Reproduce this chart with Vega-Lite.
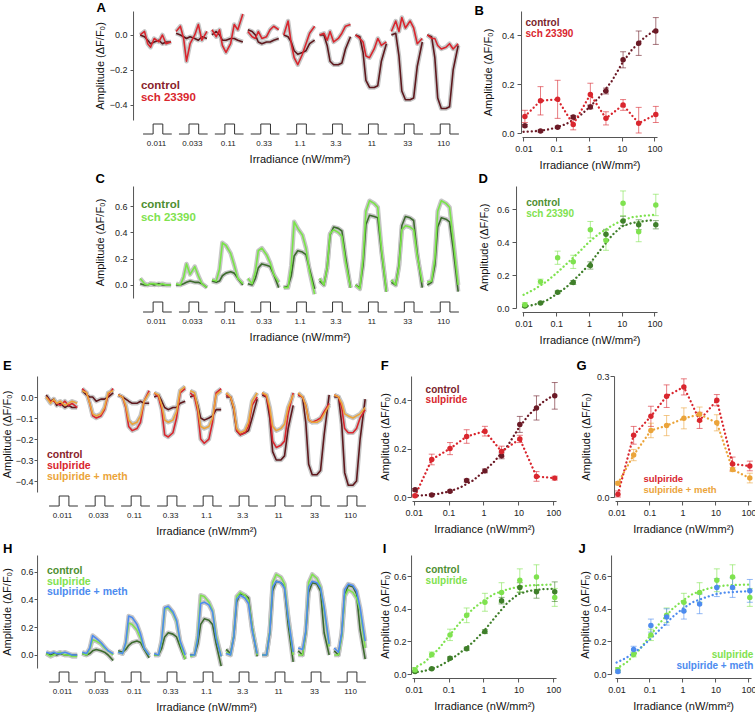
{
"$schema": "https://vega.github.io/schema/vega-lite/v6.json",
"padding": {"left": 1, "top": 2, "right": 0, "bottom": 0},
"background": "white",
"config": {
 "font": "Liberation Sans",
 "view": {"stroke": null},
 "axis": {"grid": false, "domainColor": "#555", "tickColor": "#555", "labelColor": "#222", "titleColor": "#111", "titleFontWeight": "normal", "titleFontSize": 11, "labelFontSize": 9, "tickSize": 4, "labelPadding": 2, "labelFlush": false, "labelOverlap": false},
 "line": {"strokeJoin": "round"}
},
"datasets": {
"one": [{"t": "label"}],
"stim": [
{"g":0,"o":1,"x":0.14,"y":0},{"g":0,"o":2,"x":0.42,"y":0},{"g":0,"o":3,"x":0.42,"y":1},{"g":0,"o":4,"x":0.69,"y":1},{"g":0,"o":5,"x":0.69,"y":0},{"g":0,"o":6,"x":0.94,"y":0},
{"g":1,"o":1,"x":1.14,"y":0},{"g":1,"o":2,"x":1.42,"y":0},{"g":1,"o":3,"x":1.42,"y":1},{"g":1,"o":4,"x":1.69,"y":1},{"g":1,"o":5,"x":1.69,"y":0},{"g":1,"o":6,"x":1.94,"y":0},
{"g":2,"o":1,"x":2.14,"y":0},{"g":2,"o":2,"x":2.42,"y":0},{"g":2,"o":3,"x":2.42,"y":1},{"g":2,"o":4,"x":2.69,"y":1},{"g":2,"o":5,"x":2.69,"y":0},{"g":2,"o":6,"x":2.94,"y":0},
{"g":3,"o":1,"x":3.14,"y":0},{"g":3,"o":2,"x":3.42,"y":0},{"g":3,"o":3,"x":3.42,"y":1},{"g":3,"o":4,"x":3.69,"y":1},{"g":3,"o":5,"x":3.69,"y":0},{"g":3,"o":6,"x":3.94,"y":0},
{"g":4,"o":1,"x":4.14,"y":0},{"g":4,"o":2,"x":4.42,"y":0},{"g":4,"o":3,"x":4.42,"y":1},{"g":4,"o":4,"x":4.69,"y":1},{"g":4,"o":5,"x":4.69,"y":0},{"g":4,"o":6,"x":4.94,"y":0},
{"g":5,"o":1,"x":5.14,"y":0},{"g":5,"o":2,"x":5.42,"y":0},{"g":5,"o":3,"x":5.42,"y":1},{"g":5,"o":4,"x":5.69,"y":1},{"g":5,"o":5,"x":5.69,"y":0},{"g":5,"o":6,"x":5.94,"y":0},
{"g":6,"o":1,"x":6.14,"y":0},{"g":6,"o":2,"x":6.42,"y":0},{"g":6,"o":3,"x":6.42,"y":1},{"g":6,"o":4,"x":6.69,"y":1},{"g":6,"o":5,"x":6.69,"y":0},{"g":6,"o":6,"x":6.94,"y":0},
{"g":7,"o":1,"x":7.14,"y":0},{"g":7,"o":2,"x":7.42,"y":0},{"g":7,"o":3,"x":7.42,"y":1},{"g":7,"o":4,"x":7.69,"y":1},{"g":7,"o":5,"x":7.69,"y":0},{"g":7,"o":6,"x":7.94,"y":0},
{"g":8,"o":1,"x":8.14,"y":0},{"g":8,"o":2,"x":8.42,"y":0},{"g":8,"o":3,"x":8.42,"y":1},{"g":8,"o":4,"x":8.69,"y":1},{"g":8,"o":5,"x":8.69,"y":0},{"g":8,"o":6,"x":8.94,"y":0}
],
"Ak": [
{"g":0,"x":0.06,"v":0},{"g":0,"x":0.18,"v":-0.01},{"g":0,"x":0.27,"v":-0.03},{"g":0,"x":0.35,"v":-0.05},{"g":0,"x":0.45,"v":-0.04},{"g":0,"x":0.58,"v":-0.03},{"g":0,"x":0.68,"v":-0.05},{"g":0,"x":0.78,"v":-0.04},{"g":0,"x":0.92,"v":-0.04},
{"g":1,"x":1.06,"v":0.01},{"g":1,"x":1.18,"v":0},{"g":1,"x":1.27,"v":-0.01},{"g":1,"x":1.35,"v":-0.02},{"g":1,"x":1.45,"v":-0.01},{"g":1,"x":1.58,"v":-0.02},{"g":1,"x":1.68,"v":-0.03},{"g":1,"x":1.78,"v":-0.01},{"g":1,"x":1.92,"v":-0.02},
{"g":2,"x":2.06,"v":0},{"g":2,"x":2.18,"v":0.02},{"g":2,"x":2.27,"v":0},{"g":2,"x":2.35,"v":-0.03},{"g":2,"x":2.45,"v":-0.03},{"g":2,"x":2.58,"v":-0.02},{"g":2,"x":2.68,"v":-0.02},{"g":2,"x":2.78,"v":-0.03},{"g":2,"x":2.92,"v":-0.04},
{"g":3,"x":3.06,"v":0.03},{"g":3,"x":3.18,"v":0.02},{"g":3,"x":3.27,"v":0},{"g":3,"x":3.35,"v":-0.04},{"g":3,"x":3.45,"v":-0.05},{"g":3,"x":3.58,"v":-0.04},{"g":3,"x":3.68,"v":-0.04},{"g":3,"x":3.78,"v":-0.03},{"g":3,"x":3.92,"v":-0.02},
{"g":4,"x":4.06,"v":0},{"g":4,"x":4.18,"v":-0.01},{"g":4,"x":4.27,"v":-0.04},{"g":4,"x":4.35,"v":-0.09},{"g":4,"x":4.45,"v":-0.11},{"g":4,"x":4.58,"v":-0.1},{"g":4,"x":4.68,"v":-0.09},{"g":4,"x":4.78,"v":-0.05},{"g":4,"x":4.92,"v":-0.03},
{"g":5,"x":5.06,"v":0},{"g":5,"x":5.18,"v":0},{"g":5,"x":5.27,"v":-0.06},{"g":5,"x":5.35,"v":-0.15},{"g":5,"x":5.45,"v":-0.17},{"g":5,"x":5.58,"v":-0.17},{"g":5,"x":5.68,"v":-0.16},{"g":5,"x":5.78,"v":-0.08},{"g":5,"x":5.92,"v":-0.01},
{"g":6,"x":6.06,"v":0},{"g":6,"x":6.18,"v":-0.01},{"g":6,"x":6.27,"v":-0.1},{"g":6,"x":6.35,"v":-0.26},{"g":6,"x":6.45,"v":-0.3},{"g":6,"x":6.58,"v":-0.3},{"g":6,"x":6.68,"v":-0.29},{"g":6,"x":6.78,"v":-0.15},{"g":6,"x":6.92,"v":-0.05},
{"g":7,"x":7.06,"v":0},{"g":7,"x":7.18,"v":0.01},{"g":7,"x":7.27,"v":-0.12},{"g":7,"x":7.35,"v":-0.32},{"g":7,"x":7.45,"v":-0.37},{"g":7,"x":7.58,"v":-0.37},{"g":7,"x":7.68,"v":-0.36},{"g":7,"x":7.78,"v":-0.18},{"g":7,"x":7.92,"v":-0.04},
{"g":8,"x":8.06,"v":0},{"g":8,"x":8.18,"v":-0.01},{"g":8,"x":8.27,"v":-0.13},{"g":8,"x":8.35,"v":-0.36},{"g":8,"x":8.45,"v":-0.42},{"g":8,"x":8.58,"v":-0.42},{"g":8,"x":8.68,"v":-0.41},{"g":8,"x":8.78,"v":-0.2},{"g":8,"x":8.92,"v":-0.06}
],
"Ar": [
{"g":0,"x":0.06,"v":0},{"g":0,"x":0.18,"v":0.02},{"g":0,"x":0.27,"v":-0.05},{"g":0,"x":0.35,"v":-0.07},{"g":0,"x":0.45,"v":-0.02},{"g":0,"x":0.58,"v":-0.04},{"g":0,"x":0.68,"v":0},{"g":0,"x":0.78,"v":-0.05},{"g":0,"x":0.92,"v":-0.04},
{"g":1,"x":1.06,"v":0.02},{"g":1,"x":1.18,"v":0.05},{"g":1,"x":1.27,"v":-0.02},{"g":1,"x":1.35,"v":-0.15},{"g":1,"x":1.45,"v":-0.05},{"g":1,"x":1.58,"v":0},{"g":1,"x":1.68,"v":0.06},{"g":1,"x":1.78,"v":-0.03},{"g":1,"x":1.92,"v":0.02},
{"g":2,"x":2.06,"v":0.03},{"g":2,"x":2.18,"v":-0.01},{"g":2,"x":2.27,"v":0.03},{"g":2,"x":2.35,"v":-0.06},{"g":2,"x":2.45,"v":-0.1},{"g":2,"x":2.58,"v":-0.05},{"g":2,"x":2.68,"v":0.06},{"g":2,"x":2.78,"v":0.03},{"g":2,"x":2.92,"v":0.12},
{"g":3,"x":3.06,"v":0.02},{"g":3,"x":3.18,"v":-0.01},{"g":3,"x":3.27,"v":-0.02},{"g":3,"x":3.35,"v":0.02},{"g":3,"x":3.45,"v":-0.02},{"g":3,"x":3.58,"v":-0.01},{"g":3,"x":3.68,"v":0.03},{"g":3,"x":3.78,"v":0.05},{"g":3,"x":3.92,"v":0.03},
{"g":4,"x":4.06,"v":0},{"g":4,"x":4.18,"v":0.08},{"g":4,"x":4.27,"v":-0.05},{"g":4,"x":4.35,"v":-0.13},{"g":4,"x":4.45,"v":-0.17},{"g":4,"x":4.58,"v":-0.11},{"g":4,"x":4.68,"v":-0.05},{"g":4,"x":4.78,"v":0.01},{"g":4,"x":4.92,"v":0.05},
{"g":5,"x":5.06,"v":0},{"g":5,"x":5.18,"v":0.01},{"g":5,"x":5.27,"v":-0.03},{"g":5,"x":5.35,"v":0.02},{"g":5,"x":5.45,"v":-0.04},{"g":5,"x":5.58,"v":-0.02},{"g":5,"x":5.68,"v":0.01},{"g":5,"x":5.78,"v":0.05},{"g":5,"x":5.92,"v":0.06},
{"g":6,"x":6.06,"v":0},{"g":6,"x":6.18,"v":-0.02},{"g":6,"x":6.27,"v":-0.04},{"g":6,"x":6.35,"v":-0.12},{"g":6,"x":6.45,"v":-0.13},{"g":6,"x":6.58,"v":-0.08},{"g":6,"x":6.68,"v":-0.02},{"g":6,"x":6.78,"v":-0.06},{"g":6,"x":6.92,"v":-0.04},
{"g":7,"x":7.06,"v":0.02},{"g":7,"x":7.18,"v":0.08},{"g":7,"x":7.27,"v":0.02},{"g":7,"x":7.35,"v":0.1},{"g":7,"x":7.45,"v":0.04},{"g":7,"x":7.58,"v":0.08},{"g":7,"x":7.68,"v":0.04},{"g":7,"x":7.78,"v":-0.05},{"g":7,"x":7.92,"v":-0.02},
{"g":8,"x":8.06,"v":0},{"g":8,"x":8.18,"v":-0.02},{"g":8,"x":8.27,"v":-0.02},{"g":8,"x":8.35,"v":-0.06},{"g":8,"x":8.45,"v":-0.08},{"g":8,"x":8.58,"v":-0.07},{"g":8,"x":8.68,"v":-0.05},{"g":8,"x":8.78,"v":-0.08},{"g":8,"x":8.92,"v":-0.05}
],
"Cd": [
{"g":0,"x":0.06,"v":0.01},{"g":0,"x":0.18,"v":0},{"g":0,"x":0.27,"v":0},{"g":0,"x":0.35,"v":0.01},{"g":0,"x":0.45,"v":0},{"g":0,"x":0.58,"v":0.01},{"g":0,"x":0.68,"v":0},{"g":0,"x":0.78,"v":0},{"g":0,"x":0.92,"v":0},
{"g":1,"x":1.06,"v":0},{"g":1,"x":1.18,"v":0},{"g":1,"x":1.27,"v":0.01},{"g":1,"x":1.35,"v":0.02},{"g":1,"x":1.45,"v":0.03},{"g":1,"x":1.58,"v":0.02},{"g":1,"x":1.68,"v":0.02},{"g":1,"x":1.78,"v":0.01},{"g":1,"x":1.92,"v":-0.02},
{"g":2,"x":2.06,"v":0.03},{"g":2,"x":2.18,"v":0.02},{"g":2,"x":2.27,"v":0.03},{"g":2,"x":2.35,"v":0.07},{"g":2,"x":2.45,"v":0.09},{"g":2,"x":2.58,"v":0.1},{"g":2,"x":2.68,"v":0.09},{"g":2,"x":2.78,"v":0.05},{"g":2,"x":2.92,"v":0},
{"g":3,"x":3.06,"v":0.01},{"g":3,"x":3.18,"v":0},{"g":3,"x":3.27,"v":0.05},{"g":3,"x":3.35,"v":0.13},{"g":3,"x":3.45,"v":0.16},{"g":3,"x":3.58,"v":0.15},{"g":3,"x":3.68,"v":0.14},{"g":3,"x":3.78,"v":0.08},{"g":3,"x":3.92,"v":-0.02},
{"g":4,"x":4.06,"v":-0.02},{"g":4,"x":4.18,"v":-0.01},{"g":4,"x":4.27,"v":0.07},{"g":4,"x":4.35,"v":0.22},{"g":4,"x":4.45,"v":0.26},{"g":4,"x":4.58,"v":0.25},{"g":4,"x":4.68,"v":0.23},{"g":4,"x":4.78,"v":0.12},{"g":4,"x":4.92,"v":-0.03},
{"g":5,"x":5.06,"v":0.03},{"g":5,"x":5.18,"v":0},{"g":5,"x":5.27,"v":0.13},{"g":5,"x":5.35,"v":0.38},{"g":5,"x":5.45,"v":0.44},{"g":5,"x":5.58,"v":0.43},{"g":5,"x":5.68,"v":0.41},{"g":5,"x":5.78,"v":0.22},{"g":5,"x":5.92,"v":-0.02},
{"g":6,"x":6.06,"v":0},{"g":6,"x":6.18,"v":-0.02},{"g":6,"x":6.27,"v":0.15},{"g":6,"x":6.35,"v":0.46},{"g":6,"x":6.45,"v":0.53},{"g":6,"x":6.58,"v":0.52},{"g":6,"x":6.68,"v":0.51},{"g":6,"x":6.78,"v":0.26},{"g":6,"x":6.92,"v":-0.05},
{"g":7,"x":7.06,"v":0.02},{"g":7,"x":7.18,"v":0},{"g":7,"x":7.27,"v":0.15},{"g":7,"x":7.35,"v":0.45},{"g":7,"x":7.45,"v":0.52},{"g":7,"x":7.58,"v":0.51},{"g":7,"x":7.68,"v":0.49},{"g":7,"x":7.78,"v":0.24},{"g":7,"x":7.92,"v":-0.02},
{"g":8,"x":8.06,"v":0},{"g":8,"x":8.18,"v":0.02},{"g":8,"x":8.27,"v":0.15},{"g":8,"x":8.35,"v":0.44},{"g":8,"x":8.45,"v":0.51},{"g":8,"x":8.58,"v":0.5},{"g":8,"x":8.68,"v":0.48},{"g":8,"x":8.78,"v":0.28},{"g":8,"x":8.92,"v":-0.05}
],
"Cl": [
{"g":0,"x":0.06,"v":0.05},{"g":0,"x":0.18,"v":0.01},{"g":0,"x":0.27,"v":0},{"g":0,"x":0.35,"v":0.01},{"g":0,"x":0.45,"v":0.01},{"g":0,"x":0.58,"v":0},{"g":0,"x":0.68,"v":0.01},{"g":0,"x":0.78,"v":0},{"g":0,"x":0.92,"v":0},
{"g":1,"x":1.06,"v":0.01},{"g":1,"x":1.18,"v":0},{"g":1,"x":1.27,"v":0.06},{"g":1,"x":1.35,"v":0.16},{"g":1,"x":1.45,"v":0.08},{"g":1,"x":1.58,"v":0.14},{"g":1,"x":1.68,"v":0.07},{"g":1,"x":1.78,"v":0.01},{"g":1,"x":1.92,"v":-0.02},
{"g":2,"x":2.06,"v":0.04},{"g":2,"x":2.18,"v":0.03},{"g":2,"x":2.27,"v":0.12},{"g":2,"x":2.35,"v":0.32},{"g":2,"x":2.45,"v":0.3},{"g":2,"x":2.58,"v":0.24},{"g":2,"x":2.68,"v":0.15},{"g":2,"x":2.78,"v":0.05},{"g":2,"x":2.92,"v":0.01},
{"g":3,"x":3.06,"v":0.05},{"g":3,"x":3.18,"v":0.01},{"g":3,"x":3.27,"v":0.1},{"g":3,"x":3.35,"v":0.26},{"g":3,"x":3.45,"v":0.28},{"g":3,"x":3.58,"v":0.23},{"g":3,"x":3.68,"v":0.17},{"g":3,"x":3.78,"v":0.08},{"g":3,"x":3.92,"v":0.02},
{"g":4,"x":4.06,"v":-0.02},{"g":4,"x":4.18,"v":-0.02},{"g":4,"x":4.27,"v":0.15},{"g":4,"x":4.35,"v":0.48},{"g":4,"x":4.45,"v":0.43},{"g":4,"x":4.58,"v":0.38},{"g":4,"x":4.68,"v":0.28},{"g":4,"x":4.78,"v":0.1},{"g":4,"x":4.92,"v":-0.07},
{"g":5,"x":5.06,"v":0.05},{"g":5,"x":5.18,"v":0},{"g":5,"x":5.27,"v":0.13},{"g":5,"x":5.35,"v":0.39},{"g":5,"x":5.45,"v":0.42},{"g":5,"x":5.58,"v":0.4},{"g":5,"x":5.68,"v":0.37},{"g":5,"x":5.78,"v":0.18},{"g":5,"x":5.92,"v":-0.02},
{"g":6,"x":6.06,"v":0},{"g":6,"x":6.18,"v":-0.03},{"g":6,"x":6.27,"v":0.2},{"g":6,"x":6.35,"v":0.56},{"g":6,"x":6.45,"v":0.64},{"g":6,"x":6.58,"v":0.62},{"g":6,"x":6.68,"v":0.59},{"g":6,"x":6.78,"v":0.28},{"g":6,"x":6.92,"v":-0.05},
{"g":7,"x":7.06,"v":0.04},{"g":7,"x":7.18,"v":0},{"g":7,"x":7.27,"v":0.14},{"g":7,"x":7.35,"v":0.42},{"g":7,"x":7.45,"v":0.45},{"g":7,"x":7.58,"v":0.44},{"g":7,"x":7.68,"v":0.42},{"g":7,"x":7.78,"v":0.22},{"g":7,"x":7.92,"v":0.02},
{"g":8,"x":8.06,"v":0.02},{"g":8,"x":8.18,"v":0.03},{"g":8,"x":8.27,"v":0.2},{"g":8,"x":8.35,"v":0.56},{"g":8,"x":8.45,"v":0.64},{"g":8,"x":8.58,"v":0.62},{"g":8,"x":8.68,"v":0.59},{"g":8,"x":8.78,"v":0.35},{"g":8,"x":8.92,"v":0}
],
"Ek": [
{"g":0,"x":0.06,"v":0.01},{"g":0,"x":0.18,"v":-0.02},{"g":0,"x":0.27,"v":-0.01},{"g":0,"x":0.35,"v":-0.04},{"g":0,"x":0.45,"v":-0.03},{"g":0,"x":0.58,"v":-0.05},{"g":0,"x":0.68,"v":-0.04},{"g":0,"x":0.78,"v":-0.05},{"g":0,"x":0.92,"v":-0.05},
{"g":1,"x":1.06,"v":0.03},{"g":1,"x":1.18,"v":0.01},{"g":1,"x":1.27,"v":0},{"g":1,"x":1.35,"v":0},{"g":1,"x":1.45,"v":-0.02},{"g":1,"x":1.58,"v":-0.01},{"g":1,"x":1.68,"v":-0.01},{"g":1,"x":1.78,"v":0},{"g":1,"x":1.92,"v":0.02},
{"g":2,"x":2.06,"v":0.01},{"g":2,"x":2.18,"v":0},{"g":2,"x":2.27,"v":-0.01},{"g":2,"x":2.35,"v":-0.02},{"g":2,"x":2.45,"v":-0.03},{"g":2,"x":2.58,"v":-0.03},{"g":2,"x":2.68,"v":-0.02},{"g":2,"x":2.78,"v":-0.03},{"g":2,"x":2.92,"v":-0.03},
{"g":3,"x":3.06,"v":0},{"g":3,"x":3.18,"v":0.01},{"g":3,"x":3.27,"v":-0.02},{"g":3,"x":3.35,"v":-0.05},{"g":3,"x":3.45,"v":-0.06},{"g":3,"x":3.58,"v":-0.05},{"g":3,"x":3.68,"v":-0.05},{"g":3,"x":3.78,"v":-0.03},{"g":3,"x":3.92,"v":-0.02},
{"g":4,"x":4.06,"v":0},{"g":4,"x":4.18,"v":0.01},{"g":4,"x":4.27,"v":-0.04},{"g":4,"x":4.35,"v":-0.1},{"g":4,"x":4.45,"v":-0.11},{"g":4,"x":4.58,"v":-0.1},{"g":4,"x":4.68,"v":-0.09},{"g":4,"x":4.78,"v":-0.06},{"g":4,"x":4.92,"v":-0.06},
{"g":5,"x":5.06,"v":0},{"g":5,"x":5.18,"v":0},{"g":5,"x":5.27,"v":-0.06},{"g":5,"x":5.35,"v":-0.16},{"g":5,"x":5.45,"v":-0.18},{"g":5,"x":5.58,"v":-0.17},{"g":5,"x":5.68,"v":-0.16},{"g":5,"x":5.78,"v":-0.1},{"g":5,"x":5.92,"v":-0.01},
{"g":6,"x":6.06,"v":0.01},{"g":6,"x":6.18,"v":0},{"g":6,"x":6.27,"v":-0.1},{"g":6,"x":6.35,"v":-0.26},{"g":6,"x":6.45,"v":-0.3},{"g":6,"x":6.58,"v":-0.3},{"g":6,"x":6.68,"v":-0.28},{"g":6,"x":6.78,"v":-0.15},{"g":6,"x":6.92,"v":-0.04},
{"g":7,"x":7.06,"v":0.01},{"g":7,"x":7.18,"v":0},{"g":7,"x":7.27,"v":-0.12},{"g":7,"x":7.35,"v":-0.32},{"g":7,"x":7.45,"v":-0.37},{"g":7,"x":7.58,"v":-0.37},{"g":7,"x":7.68,"v":-0.35},{"g":7,"x":7.78,"v":-0.18},{"g":7,"x":7.92,"v":0.01},
{"g":8,"x":8.06,"v":0},{"g":8,"x":8.18,"v":0},{"g":8,"x":8.27,"v":-0.13},{"g":8,"x":8.35,"v":-0.36},{"g":8,"x":8.45,"v":-0.42},{"g":8,"x":8.58,"v":-0.42},{"g":8,"x":8.68,"v":-0.4},{"g":8,"x":8.78,"v":-0.2},{"g":8,"x":8.92,"v":-0.01}
],
"Er": [
{"g":0,"x":0.06,"v":0},{"g":0,"x":0.18,"v":-0.02},{"g":0,"x":0.27,"v":-0.02},{"g":0,"x":0.35,"v":-0.03},{"g":0,"x":0.45,"v":-0.04},{"g":0,"x":0.58,"v":-0.02},{"g":0,"x":0.68,"v":-0.04},{"g":0,"x":0.78,"v":-0.03},{"g":0,"x":0.92,"v":-0.05},
{"g":1,"x":1.06,"v":0.04},{"g":1,"x":1.18,"v":0.02},{"g":1,"x":1.27,"v":-0.03},{"g":1,"x":1.35,"v":-0.09},{"g":1,"x":1.45,"v":-0.1},{"g":1,"x":1.58,"v":-0.09},{"g":1,"x":1.68,"v":-0.06},{"g":1,"x":1.78,"v":0.01},{"g":1,"x":1.92,"v":0.04},
{"g":2,"x":2.06,"v":0.01},{"g":2,"x":2.18,"v":0},{"g":2,"x":2.27,"v":-0.05},{"g":2,"x":2.35,"v":-0.14},{"g":2,"x":2.45,"v":-0.16},{"g":2,"x":2.58,"v":-0.15},{"g":2,"x":2.68,"v":-0.12},{"g":2,"x":2.78,"v":-0.02},{"g":2,"x":2.92,"v":0.03},
{"g":3,"x":3.06,"v":0.02},{"g":3,"x":3.18,"v":0},{"g":3,"x":3.27,"v":-0.06},{"g":3,"x":3.35,"v":-0.18},{"g":3,"x":3.45,"v":-0.19},{"g":3,"x":3.58,"v":-0.17},{"g":3,"x":3.68,"v":-0.1},{"g":3,"x":3.78,"v":0.02},{"g":3,"x":3.92,"v":0.04},
{"g":4,"x":4.06,"v":0.02},{"g":4,"x":4.18,"v":0},{"g":4,"x":4.27,"v":-0.07},{"g":4,"x":4.35,"v":-0.2},{"g":4,"x":4.45,"v":-0.22},{"g":4,"x":4.58,"v":-0.2},{"g":4,"x":4.68,"v":-0.12},{"g":4,"x":4.78,"v":0.02},{"g":4,"x":4.92,"v":0.04},
{"g":5,"x":5.06,"v":0.01},{"g":5,"x":5.18,"v":0},{"g":5,"x":5.27,"v":-0.05},{"g":5,"x":5.35,"v":-0.16},{"g":5,"x":5.45,"v":-0.18},{"g":5,"x":5.58,"v":-0.17},{"g":5,"x":5.68,"v":-0.14},{"g":5,"x":5.78,"v":-0.04},{"g":5,"x":5.92,"v":0},
{"g":6,"x":6.06,"v":0.02},{"g":6,"x":6.18,"v":0},{"g":6,"x":6.27,"v":-0.07},{"g":6,"x":6.35,"v":-0.21},{"g":6,"x":6.45,"v":-0.24},{"g":6,"x":6.58,"v":-0.23},{"g":6,"x":6.68,"v":-0.21},{"g":6,"x":6.78,"v":-0.08},{"g":6,"x":6.92,"v":0.02},
{"g":7,"x":7.06,"v":0.01},{"g":7,"x":7.18,"v":0},{"g":7,"x":7.27,"v":-0.04},{"g":7,"x":7.35,"v":-0.11},{"g":7,"x":7.45,"v":-0.12},{"g":7,"x":7.58,"v":-0.11},{"g":7,"x":7.68,"v":-0.1},{"g":7,"x":7.78,"v":-0.07},{"g":7,"x":7.92,"v":-0.03},
{"g":8,"x":8.06,"v":0.01},{"g":8,"x":8.18,"v":0},{"g":8,"x":8.27,"v":-0.05},{"g":8,"x":8.35,"v":-0.15},{"g":8,"x":8.45,"v":-0.17},{"g":8,"x":8.58,"v":-0.17},{"g":8,"x":8.68,"v":-0.15},{"g":8,"x":8.78,"v":-0.1},{"g":8,"x":8.92,"v":-0.06}
],
"Eo": [
{"g":0,"x":0.06,"v":0},{"g":0,"x":0.18,"v":-0.03},{"g":0,"x":0.27,"v":-0.01},{"g":0,"x":0.35,"v":-0.03},{"g":0,"x":0.45,"v":-0.02},{"g":0,"x":0.58,"v":-0.04},{"g":0,"x":0.68,"v":-0.03},{"g":0,"x":0.78,"v":-0.02},{"g":0,"x":0.92,"v":-0.03},
{"g":1,"x":1.06,"v":0.03},{"g":1,"x":1.18,"v":0.02},{"g":1,"x":1.27,"v":-0.03},{"g":1,"x":1.35,"v":-0.08},{"g":1,"x":1.45,"v":-0.09},{"g":1,"x":1.58,"v":-0.08},{"g":1,"x":1.68,"v":-0.05},{"g":1,"x":1.78,"v":0.02},{"g":1,"x":1.92,"v":0.03},
{"g":2,"x":2.06,"v":0.01},{"g":2,"x":2.18,"v":0},{"g":2,"x":2.27,"v":-0.04},{"g":2,"x":2.35,"v":-0.11},{"g":2,"x":2.45,"v":-0.13},{"g":2,"x":2.58,"v":-0.12},{"g":2,"x":2.68,"v":-0.09},{"g":2,"x":2.78,"v":-0.02},{"g":2,"x":2.92,"v":0.02},
{"g":3,"x":3.06,"v":0.02},{"g":3,"x":3.18,"v":0.01},{"g":3,"x":3.27,"v":-0.04},{"g":3,"x":3.35,"v":-0.11},{"g":3,"x":3.45,"v":-0.12},{"g":3,"x":3.58,"v":-0.11},{"g":3,"x":3.68,"v":-0.07},{"g":3,"x":3.78,"v":0.03},{"g":3,"x":3.92,"v":0.05},
{"g":4,"x":4.06,"v":0.03},{"g":4,"x":4.18,"v":0.02},{"g":4,"x":4.27,"v":-0.05},{"g":4,"x":4.35,"v":-0.14},{"g":4,"x":4.45,"v":-0.15},{"g":4,"x":4.58,"v":-0.14},{"g":4,"x":4.68,"v":-0.1},{"g":4,"x":4.78,"v":0.01},{"g":4,"x":4.92,"v":0.03},
{"g":5,"x":5.06,"v":0.02},{"g":5,"x":5.18,"v":0},{"g":5,"x":5.27,"v":-0.05},{"g":5,"x":5.35,"v":-0.15},{"g":5,"x":5.45,"v":-0.17},{"g":5,"x":5.58,"v":-0.16},{"g":5,"x":5.68,"v":-0.12},{"g":5,"x":5.78,"v":-0.02},{"g":5,"x":5.92,"v":0.02},
{"g":6,"x":6.06,"v":0.02},{"g":6,"x":6.18,"v":0.01},{"g":6,"x":6.27,"v":-0.05},{"g":6,"x":6.35,"v":-0.14},{"g":6,"x":6.45,"v":-0.16},{"g":6,"x":6.58,"v":-0.15},{"g":6,"x":6.68,"v":-0.13},{"g":6,"x":6.78,"v":-0.05},{"g":6,"x":6.92,"v":0.01},
{"g":7,"x":7.06,"v":0.02},{"g":7,"x":7.18,"v":0},{"g":7,"x":7.27,"v":-0.04},{"g":7,"x":7.35,"v":-0.11},{"g":7,"x":7.45,"v":-0.12},{"g":7,"x":7.58,"v":-0.12},{"g":7,"x":7.68,"v":-0.11},{"g":7,"x":7.78,"v":-0.08},{"g":7,"x":7.92,"v":-0.04},
{"g":8,"x":8.06,"v":0.01},{"g":8,"x":8.18,"v":0},{"g":8,"x":8.27,"v":-0.03},{"g":8,"x":8.35,"v":-0.08},{"g":8,"x":8.45,"v":-0.09},{"g":8,"x":8.58,"v":-0.1},{"g":8,"x":8.68,"v":-0.09},{"g":8,"x":8.78,"v":-0.08},{"g":8,"x":8.92,"v":-0.05}
],
"Hd": [
{"g":0,"x":0.06,"v":0.01},{"g":0,"x":0.18,"v":0},{"g":0,"x":0.27,"v":0.01},{"g":0,"x":0.35,"v":0},{"g":0,"x":0.45,"v":0.01},{"g":0,"x":0.58,"v":0},{"g":0,"x":0.68,"v":0},{"g":0,"x":0.78,"v":0},{"g":0,"x":0.92,"v":0},
{"g":1,"x":1.06,"v":0.01},{"g":1,"x":1.18,"v":0},{"g":1,"x":1.27,"v":0.01},{"g":1,"x":1.35,"v":0.03},{"g":1,"x":1.45,"v":0.04},{"g":1,"x":1.58,"v":0.03},{"g":1,"x":1.68,"v":0.02},{"g":1,"x":1.78,"v":0},{"g":1,"x":1.92,"v":-0.04},
{"g":2,"x":2.06,"v":0.03},{"g":2,"x":2.18,"v":0.02},{"g":2,"x":2.27,"v":0.04},{"g":2,"x":2.35,"v":0.07},{"g":2,"x":2.45,"v":0.09},{"g":2,"x":2.58,"v":0.1},{"g":2,"x":2.68,"v":0.09},{"g":2,"x":2.78,"v":0.04},{"g":2,"x":2.92,"v":-0.02},
{"g":3,"x":3.06,"v":0},{"g":3,"x":3.18,"v":0},{"g":3,"x":3.27,"v":0.05},{"g":3,"x":3.35,"v":0.13},{"g":3,"x":3.45,"v":0.16},{"g":3,"x":3.58,"v":0.15},{"g":3,"x":3.68,"v":0.13},{"g":3,"x":3.78,"v":0.06},{"g":3,"x":3.92,"v":-0.03},
{"g":4,"x":4.06,"v":0},{"g":4,"x":4.18,"v":0},{"g":4,"x":4.27,"v":0.08},{"g":4,"x":4.35,"v":0.22},{"g":4,"x":4.45,"v":0.26},{"g":4,"x":4.58,"v":0.25},{"g":4,"x":4.68,"v":0.22},{"g":4,"x":4.78,"v":0.08},{"g":4,"x":4.92,"v":-0.08},
{"g":5,"x":5.06,"v":0.04},{"g":5,"x":5.18,"v":0.01},{"g":5,"x":5.27,"v":0.13},{"g":5,"x":5.35,"v":0.38},{"g":5,"x":5.45,"v":0.44},{"g":5,"x":5.58,"v":0.43},{"g":5,"x":5.68,"v":0.41},{"g":5,"x":5.78,"v":0.2},{"g":5,"x":5.92,"v":-0.01},
{"g":6,"x":6.06,"v":0},{"g":6,"x":6.18,"v":0},{"g":6,"x":6.27,"v":0.16},{"g":6,"x":6.35,"v":0.46},{"g":6,"x":6.45,"v":0.53},{"g":6,"x":6.58,"v":0.52},{"g":6,"x":6.68,"v":0.49},{"g":6,"x":6.78,"v":0.22},{"g":6,"x":6.92,"v":-0.05},
{"g":7,"x":7.06,"v":0.03},{"g":7,"x":7.18,"v":0},{"g":7,"x":7.27,"v":0.16},{"g":7,"x":7.35,"v":0.45},{"g":7,"x":7.45,"v":0.52},{"g":7,"x":7.58,"v":0.51},{"g":7,"x":7.68,"v":0.46},{"g":7,"x":7.78,"v":0.16},{"g":7,"x":7.92,"v":0},
{"g":8,"x":8.06,"v":0.03},{"g":8,"x":8.18,"v":0},{"g":8,"x":8.27,"v":0.15},{"g":8,"x":8.35,"v":0.43},{"g":8,"x":8.45,"v":0.5},{"g":8,"x":8.58,"v":0.49},{"g":8,"x":8.68,"v":0.44},{"g":8,"x":8.78,"v":0.18},{"g":8,"x":8.92,"v":-0.03}
],
"Hl": [
{"g":0,"x":0.06,"v":0.01},{"g":0,"x":0.18,"v":-0.01},{"g":0,"x":0.27,"v":0},{"g":0,"x":0.35,"v":0.01},{"g":0,"x":0.45,"v":0.02},{"g":0,"x":0.58,"v":0},{"g":0,"x":0.68,"v":0},{"g":0,"x":0.78,"v":-0.01},{"g":0,"x":0.92,"v":-0.01},
{"g":1,"x":1.06,"v":0.01},{"g":1,"x":1.18,"v":0},{"g":1,"x":1.27,"v":0.04},{"g":1,"x":1.35,"v":0.11},{"g":1,"x":1.45,"v":0.1},{"g":1,"x":1.58,"v":0.08},{"g":1,"x":1.68,"v":0.05},{"g":1,"x":1.78,"v":0.03},{"g":1,"x":1.92,"v":0},
{"g":2,"x":2.06,"v":0.02},{"g":2,"x":2.18,"v":0.01},{"g":2,"x":2.27,"v":0.08},{"g":2,"x":2.35,"v":0.23},{"g":2,"x":2.45,"v":0.22},{"g":2,"x":2.58,"v":0.18},{"g":2,"x":2.68,"v":0.12},{"g":2,"x":2.78,"v":0.05},{"g":2,"x":2.92,"v":0},
{"g":3,"x":3.06,"v":0},{"g":3,"x":3.18,"v":0},{"g":3,"x":3.27,"v":0.1},{"g":3,"x":3.35,"v":0.33},{"g":3,"x":3.45,"v":0.34},{"g":3,"x":3.58,"v":0.3},{"g":3,"x":3.68,"v":0.24},{"g":3,"x":3.78,"v":0.09},{"g":3,"x":3.92,"v":-0.03},
{"g":4,"x":4.06,"v":-0.01},{"g":4,"x":4.18,"v":0},{"g":4,"x":4.27,"v":0.14},{"g":4,"x":4.35,"v":0.43},{"g":4,"x":4.45,"v":0.42},{"g":4,"x":4.58,"v":0.38},{"g":4,"x":4.68,"v":0.32},{"g":4,"x":4.78,"v":0.14},{"g":4,"x":4.92,"v":-0.01},
{"g":5,"x":5.06,"v":0.02},{"g":5,"x":5.18,"v":0},{"g":5,"x":5.27,"v":0.14},{"g":5,"x":5.35,"v":0.42},{"g":5,"x":5.45,"v":0.45},{"g":5,"x":5.58,"v":0.43},{"g":5,"x":5.68,"v":0.39},{"g":5,"x":5.78,"v":0.2},{"g":5,"x":5.92,"v":0},
{"g":6,"x":6.06,"v":0},{"g":6,"x":6.18,"v":0},{"g":6,"x":6.27,"v":0.17},{"g":6,"x":6.35,"v":0.52},{"g":6,"x":6.45,"v":0.58},{"g":6,"x":6.58,"v":0.56},{"g":6,"x":6.68,"v":0.51},{"g":6,"x":6.78,"v":0.28},{"g":6,"x":6.92,"v":0},
{"g":7,"x":7.06,"v":0},{"g":7,"x":7.18,"v":0},{"g":7,"x":7.27,"v":0.17},{"g":7,"x":7.35,"v":0.52},{"g":7,"x":7.45,"v":0.58},{"g":7,"x":7.58,"v":0.55},{"g":7,"x":7.68,"v":0.49},{"g":7,"x":7.78,"v":0.32},{"g":7,"x":7.92,"v":0.06},
{"g":8,"x":8.06,"v":0},{"g":8,"x":8.18,"v":0},{"g":8,"x":8.27,"v":0.14},{"g":8,"x":8.35,"v":0.42},{"g":8,"x":8.45,"v":0.47},{"g":8,"x":8.58,"v":0.45},{"g":8,"x":8.68,"v":0.41},{"g":8,"x":8.78,"v":0.32},{"g":8,"x":8.92,"v":0.05}
],
"Hb": [
{"g":0,"x":0.06,"v":0.02},{"g":0,"x":0.18,"v":0.01},{"g":0,"x":0.27,"v":0.02},{"g":0,"x":0.35,"v":0.01},{"g":0,"x":0.45,"v":0.01},{"g":0,"x":0.58,"v":0.02},{"g":0,"x":0.68,"v":0.01},{"g":0,"x":0.78,"v":0},{"g":0,"x":0.92,"v":0},
{"g":1,"x":1.06,"v":0.02},{"g":1,"x":1.18,"v":0.01},{"g":1,"x":1.27,"v":0.05},{"g":1,"x":1.35,"v":0.14},{"g":1,"x":1.45,"v":0.12},{"g":1,"x":1.58,"v":0.09},{"g":1,"x":1.68,"v":0.06},{"g":1,"x":1.78,"v":0.03},{"g":1,"x":1.92,"v":0.01},
{"g":2,"x":2.06,"v":0.02},{"g":2,"x":2.18,"v":0.01},{"g":2,"x":2.27,"v":0.09},{"g":2,"x":2.35,"v":0.28},{"g":2,"x":2.45,"v":0.27},{"g":2,"x":2.58,"v":0.22},{"g":2,"x":2.68,"v":0.15},{"g":2,"x":2.78,"v":0.05},{"g":2,"x":2.92,"v":0},
{"g":3,"x":3.06,"v":0.01},{"g":3,"x":3.18,"v":0},{"g":3,"x":3.27,"v":0.11},{"g":3,"x":3.35,"v":0.34},{"g":3,"x":3.45,"v":0.35},{"g":3,"x":3.58,"v":0.31},{"g":3,"x":3.68,"v":0.25},{"g":3,"x":3.78,"v":0.1},{"g":3,"x":3.92,"v":0},
{"g":4,"x":4.06,"v":0},{"g":4,"x":4.18,"v":0},{"g":4,"x":4.27,"v":0.12},{"g":4,"x":4.35,"v":0.37},{"g":4,"x":4.45,"v":0.38},{"g":4,"x":4.58,"v":0.36},{"g":4,"x":4.68,"v":0.31},{"g":4,"x":4.78,"v":0.12},{"g":4,"x":4.92,"v":-0.01},
{"g":5,"x":5.06,"v":0.01},{"g":5,"x":5.18,"v":0},{"g":5,"x":5.27,"v":0.13},{"g":5,"x":5.35,"v":0.4},{"g":5,"x":5.45,"v":0.43},{"g":5,"x":5.58,"v":0.41},{"g":5,"x":5.68,"v":0.37},{"g":5,"x":5.78,"v":0.18},{"g":5,"x":5.92,"v":0.01},
{"g":6,"x":6.06,"v":0},{"g":6,"x":6.18,"v":0},{"g":6,"x":6.27,"v":0.16},{"g":6,"x":6.35,"v":0.49},{"g":6,"x":6.45,"v":0.53},{"g":6,"x":6.58,"v":0.52},{"g":6,"x":6.68,"v":0.48},{"g":6,"x":6.78,"v":0.27},{"g":6,"x":6.92,"v":0.02},
{"g":7,"x":7.06,"v":0.05},{"g":7,"x":7.18,"v":0.04},{"g":7,"x":7.27,"v":0.17},{"g":7,"x":7.35,"v":0.49},{"g":7,"x":7.45,"v":0.53},{"g":7,"x":7.58,"v":0.52},{"g":7,"x":7.68,"v":0.48},{"g":7,"x":7.78,"v":0.34},{"g":7,"x":7.92,"v":0.08},
{"g":8,"x":8.06,"v":0.05},{"g":8,"x":8.18,"v":0.02},{"g":8,"x":8.27,"v":0.16},{"g":8,"x":8.35,"v":0.47},{"g":8,"x":8.45,"v":0.51},{"g":8,"x":8.58,"v":0.5},{"g":8,"x":8.68,"v":0.46},{"g":8,"x":8.78,"v":0.34},{"g":8,"x":8.92,"v":0.1}
],
"B": [
{"s":"k","x":0.011,"y":0.03,"lo":0.025,"hi":0.035},{"s":"k","x":0.033,"y":0.008,"lo":0.004,"hi":0.012},{"s":"k","x":0.11,"y":0.024,"lo":0.02,"hi":0.028},{"s":"k","x":0.33,"y":0.066,"lo":0.06,"hi":0.072},{"s":"k","x":1.1,"y":0.107,"lo":0.099,"hi":0.115},{"s":"k","x":3.3,"y":0.172,"lo":0.16,"hi":0.184},{"s":"k","x":11,"y":0.3,"lo":0.267,"hi":0.333},{"s":"k","x":33,"y":0.368,"lo":0.318,"hi":0.418},{"s":"k","x":110,"y":0.418,"lo":0.363,"hi":0.473},
{"s":"r","x":0.011,"y":0.068,"lo":0.043,"hi":0.093},{"s":"r","x":0.033,"y":0.132,"lo":0.074,"hi":0.19},{"s":"r","x":0.11,"y":0.138,"lo":0.06,"hi":0.216},{"s":"r","x":0.33,"y":0.035,"lo":0.013,"hi":0.057},{"s":"r","x":1.1,"y":0.158,"lo":0.112,"hi":0.204},{"s":"r","x":3.3,"y":0.06,"lo":0.033,"hi":0.087},{"s":"r","x":11,"y":0.115,"lo":0.093,"hi":0.137},{"s":"r","x":33,"y":0.04,"lo":0.0,"hi":0.105},{"s":"r","x":110,"y":0.076,"lo":0.043,"hi":0.109}
],
"Bf": [
{"s":"k","x":0.01,"y":0.005},{"s":"k","x":0.02,"y":0.007},{"s":"k","x":0.05,"y":0.013},{"s":"k","x":0.1,"y":0.022},{"s":"k","x":0.2,"y":0.037},{"s":"k","x":0.5,"y":0.068},{"s":"k","x":1,"y":0.104},{"s":"k","x":2,"y":0.145},{"s":"k","x":5,"y":0.213},{"s":"k","x":10,"y":0.283},{"s":"k","x":20,"y":0.34},{"s":"k","x":50,"y":0.392},{"s":"k","x":100,"y":0.42}
],
"D": [
{"s":"d","x":0.011,"y":0.012,"lo":0.004,"hi":0.02},{"s":"d","x":0.033,"y":0.03,"lo":0.026,"hi":0.034},{"s":"d","x":0.11,"y":0.095,"lo":0.087,"hi":0.103},{"s":"d","x":0.33,"y":0.155,"lo":0.143,"hi":0.167},{"s":"d","x":1.1,"y":0.258,"lo":0.236,"hi":0.28},{"s":"d","x":3.3,"y":0.447,"lo":0.417,"hi":0.477},{"s":"d","x":11,"y":0.528,"lo":0.5,"hi":0.556},{"s":"d","x":33,"y":0.505,"lo":0.475,"hi":0.535},{"s":"d","x":110,"y":0.505,"lo":0.48,"hi":0.53},
{"s":"l","x":0.011,"y":0.02,"lo":0.008,"hi":0.032},{"s":"l","x":0.033,"y":0.16,"lo":0.145,"hi":0.175},{"s":"l","x":0.11,"y":0.305,"lo":0.265,"hi":0.345},{"s":"l","x":0.33,"y":0.28,"lo":0.24,"hi":0.32},{"s":"l","x":1.1,"y":0.475,"lo":0.425,"hi":0.525},{"s":"l","x":3.3,"y":0.41,"lo":0.35,"hi":0.47},{"s":"l","x":11,"y":0.635,"lo":0.56,"hi":0.71},{"s":"l","x":33,"y":0.462,"lo":0.402,"hi":0.522},{"s":"l","x":110,"y":0.625,"lo":0.56,"hi":0.69}
],
"Df": [
{"s":"d","x":0.01,"y":0.01},{"s":"d","x":0.02,"y":0.018},{"s":"d","x":0.05,"y":0.045},{"s":"d","x":0.1,"y":0.083},{"s":"d","x":0.2,"y":0.125},{"s":"d","x":0.5,"y":0.2},{"s":"d","x":1,"y":0.262},{"s":"d","x":2,"y":0.34},{"s":"d","x":5,"y":0.44},{"s":"d","x":10,"y":0.495},{"s":"d","x":20,"y":0.515},{"s":"d","x":50,"y":0.528},{"s":"d","x":100,"y":0.533},
{"s":"l","x":0.01,"y":0.08},{"s":"l","x":0.02,"y":0.11},{"s":"l","x":0.05,"y":0.16},{"s":"l","x":0.1,"y":0.21},{"s":"l","x":0.2,"y":0.265},{"s":"l","x":0.5,"y":0.34},{"s":"l","x":1,"y":0.4},{"s":"l","x":2,"y":0.45},{"s":"l","x":5,"y":0.5},{"s":"l","x":10,"y":0.53},{"s":"l","x":20,"y":0.55},{"s":"l","x":50,"y":0.56},{"s":"l","x":100,"y":0.565}
],
"F": [
{"s":"k","x":0.011,"y":0.03,"lo":0.025,"hi":0.035},{"s":"k","x":0.033,"y":0.008,"lo":0.004,"hi":0.012},{"s":"k","x":0.11,"y":0.024,"lo":0.02,"hi":0.028},{"s":"k","x":0.33,"y":0.068,"lo":0.062,"hi":0.074},{"s":"k","x":1.1,"y":0.108,"lo":0.1,"hi":0.116},{"s":"k","x":3.3,"y":0.17,"lo":0.158,"hi":0.182},{"s":"k","x":11,"y":0.3,"lo":0.267,"hi":0.333},{"s":"k","x":33,"y":0.368,"lo":0.318,"hi":0.418},{"s":"k","x":110,"y":0.418,"lo":0.363,"hi":0.473},
{"s":"r","x":0.011,"y":0.005,"lo":0.0,"hi":0.011},{"s":"r","x":0.033,"y":0.155,"lo":0.133,"hi":0.177},{"s":"r","x":0.11,"y":0.2,"lo":0.175,"hi":0.225},{"s":"r","x":0.33,"y":0.25,"lo":0.222,"hi":0.278},{"s":"r","x":1.1,"y":0.272,"lo":0.252,"hi":0.292},{"s":"r","x":3.3,"y":0.188,"lo":0.166,"hi":0.21},{"s":"r","x":11,"y":0.24,"lo":0.225,"hi":0.255},{"s":"r","x":33,"y":0.085,"lo":0.065,"hi":0.105},{"s":"r","x":110,"y":0.078,"lo":0.07,"hi":0.086}
],
"G": [
{"s":"r","x":0.011,"y":0.007,"lo":0.0,"hi":0.015},{"s":"r","x":0.033,"y":0.153,"lo":0.131,"hi":0.175},{"s":"r","x":0.11,"y":0.2,"lo":0.175,"hi":0.225},{"s":"r","x":0.33,"y":0.25,"lo":0.222,"hi":0.278},{"s":"r","x":1.1,"y":0.273,"lo":0.253,"hi":0.293},{"s":"r","x":3.3,"y":0.19,"lo":0.17,"hi":0.21},{"s":"r","x":11,"y":0.24,"lo":0.226,"hi":0.254},{"s":"r","x":33,"y":0.082,"lo":0.065,"hi":0.099},{"s":"r","x":110,"y":0.077,"lo":0.065,"hi":0.089},
{"s":"o","x":0.011,"y":0.034,"lo":0.03,"hi":0.038},{"s":"o","x":0.033,"y":0.104,"lo":0.09,"hi":0.118},{"s":"o","x":0.11,"y":0.165,"lo":0.147,"hi":0.183},{"s":"o","x":0.33,"y":0.177,"lo":0.152,"hi":0.202},{"s":"o","x":1.1,"y":0.195,"lo":0.169,"hi":0.221},{"s":"o","x":3.3,"y":0.205,"lo":0.187,"hi":0.223},{"s":"o","x":11,"y":0.184,"lo":0.164,"hi":0.204},{"s":"o","x":33,"y":0.068,"lo":0.063,"hi":0.073},{"s":"o","x":110,"y":0.047,"lo":0.035,"hi":0.059}
],
"I": [
{"s":"d","x":0.011,"y":0.015,"lo":0.01,"hi":0.02},{"s":"d","x":0.033,"y":0.032,"lo":0.028,"hi":0.036},{"s":"d","x":0.11,"y":0.097,"lo":0.089,"hi":0.105},{"s":"d","x":0.33,"y":0.155,"lo":0.145,"hi":0.165},{"s":"d","x":1.1,"y":0.26,"lo":0.248,"hi":0.272},{"s":"d","x":3.3,"y":0.45,"lo":0.43,"hi":0.47},{"s":"d","x":11,"y":0.53,"lo":0.5,"hi":0.56},{"s":"d","x":33,"y":0.505,"lo":0.465,"hi":0.545},{"s":"d","x":110,"y":0.505,"lo":0.445,"hi":0.565},
{"s":"l","x":0.011,"y":0.025,"lo":0.01,"hi":0.04},{"s":"l","x":0.033,"y":0.12,"lo":0.105,"hi":0.135},{"s":"l","x":0.11,"y":0.24,"lo":0.205,"hi":0.275},{"s":"l","x":0.33,"y":0.36,"lo":0.315,"hi":0.405},{"s":"l","x":1.1,"y":0.44,"lo":0.385,"hi":0.495},{"s":"l","x":3.3,"y":0.5,"lo":0.44,"hi":0.56},{"s":"l","x":11,"y":0.575,"lo":0.505,"hi":0.645},{"s":"l","x":33,"y":0.595,"lo":0.52,"hi":0.67},{"s":"l","x":110,"y":0.47,"lo":0.415,"hi":0.525}
],
"If": [
{"s":"d","x":0.01,"y":0.01},{"s":"d","x":0.02,"y":0.018},{"s":"d","x":0.05,"y":0.045},{"s":"d","x":0.1,"y":0.08},{"s":"d","x":0.2,"y":0.125},{"s":"d","x":0.5,"y":0.195},{"s":"d","x":1,"y":0.26},{"s":"d","x":2,"y":0.34},{"s":"d","x":5,"y":0.44},{"s":"d","x":10,"y":0.49},{"s":"d","x":20,"y":0.51},{"s":"d","x":50,"y":0.52},{"s":"d","x":100,"y":0.522},
{"s":"l","x":0.01,"y":0.035},{"s":"l","x":0.02,"y":0.07},{"s":"l","x":0.05,"y":0.15},{"s":"l","x":0.1,"y":0.23},{"s":"l","x":0.2,"y":0.31},{"s":"l","x":0.5,"y":0.4},{"s":"l","x":1,"y":0.45},{"s":"l","x":2,"y":0.49},{"s":"l","x":5,"y":0.52},{"s":"l","x":10,"y":0.535},{"s":"l","x":20,"y":0.543},{"s":"l","x":50,"y":0.547},{"s":"l","x":100,"y":0.548}
],
"J": [
{"s":"l","x":0.011,"y":0.025,"lo":0.01,"hi":0.04},{"s":"l","x":0.033,"y":0.12,"lo":0.105,"hi":0.135},{"s":"l","x":0.11,"y":0.24,"lo":0.205,"hi":0.275},{"s":"l","x":0.33,"y":0.36,"lo":0.315,"hi":0.405},{"s":"l","x":1.1,"y":0.44,"lo":0.385,"hi":0.495},{"s":"l","x":3.3,"y":0.5,"lo":0.44,"hi":0.56},{"s":"l","x":11,"y":0.575,"lo":0.505,"hi":0.645},{"s":"l","x":33,"y":0.595,"lo":0.52,"hi":0.67},{"s":"l","x":110,"y":0.47,"lo":0.415,"hi":0.525},
{"s":"b","x":0.011,"y":0.015,"lo":0.007,"hi":0.023},{"s":"b","x":0.033,"y":0.15,"lo":0.13,"hi":0.17},{"s":"b","x":0.11,"y":0.297,"lo":0.257,"hi":0.337},{"s":"b","x":0.33,"y":0.35,"lo":0.3,"hi":0.4},{"s":"b","x":1.1,"y":0.387,"lo":0.337,"hi":0.437},{"s":"b","x":3.3,"y":0.43,"lo":0.37,"hi":0.49},{"s":"b","x":11,"y":0.53,"lo":0.475,"hi":0.585},{"s":"b","x":33,"y":0.53,"lo":0.47,"hi":0.59},{"s":"b","x":110,"y":0.51,"lo":0.44,"hi":0.58}
],
"Jf": [
{"s":"l","x":0.01,"y":0.035},{"s":"l","x":0.02,"y":0.07},{"s":"l","x":0.05,"y":0.15},{"s":"l","x":0.1,"y":0.23},{"s":"l","x":0.2,"y":0.31},{"s":"l","x":0.5,"y":0.4},{"s":"l","x":1,"y":0.45},{"s":"l","x":2,"y":0.49},{"s":"l","x":5,"y":0.52},{"s":"l","x":10,"y":0.535},{"s":"l","x":20,"y":0.543},{"s":"l","x":50,"y":0.547},{"s":"l","x":100,"y":0.548},
{"s":"b","x":0.01,"y":0.07},{"s":"b","x":0.02,"y":0.1},{"s":"b","x":0.05,"y":0.155},{"s":"b","x":0.1,"y":0.21},{"s":"b","x":0.2,"y":0.27},{"s":"b","x":0.5,"y":0.35},{"s":"b","x":1,"y":0.4},{"s":"b","x":2,"y":0.44},{"s":"b","x":5,"y":0.47},{"s":"b","x":10,"y":0.49},{"s":"b","x":20,"y":0.5},{"s":"b","x":50,"y":0.505},{"s":"b","x":100,"y":0.508}
]
},
"vconcat": [
{"vconcat": [
 {"hconcat": [
  {"vconcat": [
   {"width": 323, "height": 109,
    "layer": [
     {"data": {"name": "Ak"}, "mark": {"type": "line", "color": "#c6c6c6", "strokeWidth": 4.5}, "encoding": {"x": {"field": "x", "type": "quantitative", "scale": {"domain": [0, 9], "nice": false}, "axis": null}, "y": {"field": "v", "type": "quantitative", "scale": {"domain": [-0.486, 0.137], "nice": false, "zero": false}, "axis": {"values": [-0.4, -0.2, 0], "tickCount": 3, "format": ".1f", "offset": 5, "tickSize": 3, "labelPadding": 3, "labelOverlap": false, "title": "Amplitude (ΔF/F₀)", "titlePadding": 4}}, "detail": {"field": "g"}}},
     {"data": {"name": "Ar"}, "mark": {"type": "line", "color": "#c6c6c6", "strokeWidth": 4.5}, "encoding": {"x": {"field": "x", "type": "quantitative"}, "y": {"field": "v", "type": "quantitative"}, "detail": {"field": "g"}}},
     {"data": {"name": "Ak"}, "mark": {"type": "line", "color": "#5e181d", "strokeWidth": 1.6}, "encoding": {"x": {"field": "x", "type": "quantitative"}, "y": {"field": "v", "type": "quantitative"}, "detail": {"field": "g"}}},
     {"data": {"name": "Ar"}, "mark": {"type": "line", "color": "#d9262e", "strokeWidth": 1.6}, "encoding": {"x": {"field": "x", "type": "quantitative"}, "y": {"field": "v", "type": "quantitative"}, "detail": {"field": "g"}}},
     {"data": {"name": "one"}, "mark": {"type": "text", "align": "left", "baseline": "middle", "fontSize": 13, "fontWeight": "bold", "color": "#000"}, "encoding": {"x": {"datum": -1.156}, "y": {"datum": 0.154}, "text": {"value": "A"}}},
     {"data": {"name": "one"}, "mark": {"type": "text", "align": "left", "baseline": "middle", "fontSize": 11.5, "fontWeight": "bold", "color": "#8a1d2b"}, "encoding": {"x": {"datum": 0.08}, "y": {"datum": -0.292}, "text": {"value": "control"}}},
     {"data": {"name": "one"}, "mark": {"type": "text", "align": "left", "baseline": "middle", "fontSize": 11.5, "fontWeight": "bold", "color": "#d9262e"}, "encoding": {"x": {"datum": 0.08}, "y": {"datum": -0.36}, "text": {"value": "sch 23390"}}}
    ]},
   {"width": 323, "height": 10, "data": {"name": "stim"}, "mark": {"type": "line", "color": "#333", "strokeWidth": 1},
    "encoding": {"x": {"field": "x", "type": "quantitative", "scale": {"domain": [0, 9], "nice": false}, "axis": {"values": [0.5, 1.5, 2.5, 3.5, 4.5, 5.5, 6.5, 7.5, 8.5], "labelExpr": "['0.011','0.033','0.11','0.33','1.1','3.3','11','33','110'][floor(datum.value)]", "domain": false, "ticks": false, "labelFontSize": 8, "labelPadding": 5, "title": "Irradiance (nW/mm²)", "titlePadding": 6}},
                 "y": {"field": "y", "type": "quantitative", "scale": {"domain": [0, 1], "nice": false}, "axis": null},
                 "detail": {"field": "g"}, "order": {"field": "o"}}}
  ], "spacing": 4, "bounds": "flush"},
  {"width": 135, "height": 122, "data": {"name": "B"},
   "encoding": {"x": {"field": "x", "type": "quantitative", "scale": {"type": "log", "domain": [0.009, 120], "nice": false}, "axis": {"values": [0.01, 0.1, 1, 10, 100], "format": "~g", "offset": 4, "labelPadding": 3, "title": "Irradiance (nW/mm²)", "titlePadding": 6}}},
   "layer": [
    {"mark": {"type": "rule", "opacity": 0.6}, "encoding": {"y": {"field": "lo", "type": "quantitative", "scale": {"domain": [0, 0.5], "nice": false}, "axis": {"values": [0, 0.1, 0.2, 0.3, 0.4, 0.5], "tickCount": 5, "format": ".1f", "offset": 1, "labelPadding": 3, "labelOverlap": false, "title": "Amplitude (ΔF/F₀)", "titlePadding": 8}}, "y2": {"field": "hi"}, "color": {"field": "s", "type": "nominal", "scale": {"domain": ["k", "r", "o", "d", "l", "b"], "range": ["#6b1a26", "#d9262e", "#eba43a", "#3f7f2a", "#7fe24f", "#4d8bef"]}, "legend": null}}},
    {"mark": {"type": "tick", "orient": "horizontal", "size": 6, "thickness": 1, "opacity": 0.6}, "encoding": {"y": {"field": "lo", "type": "quantitative"}, "color": {"field": "s", "type": "nominal", "legend": null}}},
    {"mark": {"type": "tick", "orient": "horizontal", "size": 6, "thickness": 1, "opacity": 0.6}, "encoding": {"y": {"field": "hi", "type": "quantitative"}, "color": {"field": "s", "type": "nominal", "legend": null}}},
    {"data": {"name": "Bf"}, "mark": {"type": "line", "strokeDash": [0.1, 4], "strokeWidth": 2.3, "strokeCap": "round"}, "encoding": {"y": {"field": "y", "type": "quantitative"}, "color": {"field": "s", "type": "nominal", "legend": null}}},
    {"transform": [{"filter": "datum.s == 'r'"}], "mark": {"type": "line", "strokeDash": [0.1, 4], "strokeWidth": 2.3, "strokeCap": "round"}, "encoding": {"y": {"field": "y", "type": "quantitative"}, "color": {"field": "s", "type": "nominal", "legend": null}}},
    {"mark": {"type": "circle", "size": 30, "opacity": 1}, "encoding": {"y": {"field": "y", "type": "quantitative"}, "color": {"field": "s", "type": "nominal", "legend": null}}},
    {"transform": [{"filter": "datum.s == 'k' && datum.x == 0.011"}], "mark": {"type": "text", "align": "left", "baseline": "middle", "fontSize": 13, "fontWeight": "bold", "color": "#000"}, "encoding": {"x": {"datum": 0.000318}, "y": {"datum": 0.5}, "text": {"value": "B"}}},
    {"transform": [{"filter": "datum.s == 'k' && datum.x == 0.011"}], "mark": {"type": "text", "align": "left", "baseline": "middle", "fontSize": 10, "fontWeight": "bold", "color": "#7a1d2b"}, "encoding": {"x": {"datum": 0.0115}, "y": {"datum": 0.449}, "text": {"value": "control"}}},
    {"transform": [{"filter": "datum.s == 'k' && datum.x == 0.011"}], "mark": {"type": "text", "align": "left", "baseline": "middle", "fontSize": 10, "fontWeight": "bold", "color": "#d9262e"}, "encoding": {"x": {"datum": 0.0115}, "y": {"datum": 0.405}, "text": {"value": "sch 23390"}}}
   ]}
 ], "spacing": 13},
 {"hconcat": [
  {"vconcat": [
   {"width": 323, "height": 112,
    "layer": [
     {"data": {"name": "Cd"}, "mark": {"type": "line", "color": "#c6c6c6", "strokeWidth": 4.5}, "encoding": {"x": {"field": "x", "type": "quantitative", "scale": {"domain": [0, 9], "nice": false}, "axis": null}, "y": {"field": "v", "type": "quantitative", "scale": {"domain": [-0.099, 0.752], "nice": false, "zero": false}, "axis": {"values": [0, 0.2, 0.4, 0.6], "tickCount": 4, "format": ".1f", "offset": 5, "tickSize": 3, "labelPadding": 3, "labelOverlap": false, "title": "Amplitude (ΔF/F₀)", "titlePadding": 9}}, "detail": {"field": "g"}}},
     {"data": {"name": "Cl"}, "mark": {"type": "line", "color": "#c6c6c6", "strokeWidth": 4.5}, "encoding": {"x": {"field": "x", "type": "quantitative"}, "y": {"field": "v", "type": "quantitative"}, "detail": {"field": "g"}}},
     {"data": {"name": "Cd"}, "mark": {"type": "line", "color": "#3d6b2e", "strokeWidth": 1.6}, "encoding": {"x": {"field": "x", "type": "quantitative"}, "y": {"field": "v", "type": "quantitative"}, "detail": {"field": "g"}}},
     {"data": {"name": "Cl"}, "mark": {"type": "line", "color": "#79e548", "strokeWidth": 1.6}, "encoding": {"x": {"field": "x", "type": "quantitative"}, "y": {"field": "v", "type": "quantitative"}, "detail": {"field": "g"}}},
     {"data": {"name": "one"}, "mark": {"type": "text", "align": "left", "baseline": "middle", "fontSize": 13, "fontWeight": "bold", "color": "#000"}, "encoding": {"x": {"datum": -1.184}, "y": {"datum": 0.805}, "text": {"value": "C"}}},
     {"data": {"name": "one"}, "mark": {"type": "text", "align": "left", "baseline": "middle", "fontSize": 11.5, "fontWeight": "bold", "color": "#4e8f31"}, "encoding": {"x": {"datum": 0.08}, "y": {"datum": 0.608}, "text": {"value": "control"}}},
     {"data": {"name": "one"}, "mark": {"type": "text", "align": "left", "baseline": "middle", "fontSize": 11.5, "fontWeight": "bold", "color": "#7fe24f"}, "encoding": {"x": {"datum": 0.08}, "y": {"datum": 0.509}, "text": {"value": "sch 23390"}}}
    ]},
   {"width": 323, "height": 10, "data": {"name": "stim"}, "mark": {"type": "line", "color": "#333", "strokeWidth": 1},
    "encoding": {"x": {"field": "x", "type": "quantitative", "scale": {"domain": [0, 9], "nice": false}, "axis": {"values": [0.5, 1.5, 2.5, 3.5, 4.5, 5.5, 6.5, 7.5, 8.5], "labelExpr": "['0.011','0.033','0.11','0.33','1.1','3.3','11','33','110'][floor(datum.value)]", "domain": false, "ticks": false, "labelFontSize": 8, "labelPadding": 5, "title": "Irradiance (nW/mm²)", "titlePadding": 6}},
                 "y": {"field": "y", "type": "quantitative", "scale": {"domain": [0, 1], "nice": false}, "axis": null},
                 "detail": {"field": "g"}, "order": {"field": "o"}}}
  ], "spacing": 4, "bounds": "flush"},
  {"width": 135, "height": 122, "data": {"name": "D"},
   "encoding": {"x": {"field": "x", "type": "quantitative", "scale": {"type": "log", "domain": [0.009, 120], "nice": false}, "axis": {"values": [0.01, 0.1, 1, 10, 100], "format": "~g", "offset": 4, "labelPadding": 3, "title": "Irradiance (nW/mm²)", "titlePadding": 6}}},
   "layer": [
    {"mark": {"type": "rule", "opacity": 0.6}, "encoding": {"y": {"field": "lo", "type": "quantitative", "scale": {"domain": [0, 0.74], "nice": false}, "axis": {"values": [0, 0.2, 0.4, 0.6], "tickCount": 4, "format": ".1f", "offset": 6, "labelPadding": 3, "labelOverlap": false, "title": "Amplitude (ΔF/F₀)", "titlePadding": 7}}, "y2": {"field": "hi"}, "color": {"field": "s", "type": "nominal", "legend": null}}},
    {"mark": {"type": "tick", "orient": "horizontal", "size": 6, "thickness": 1, "opacity": 0.6}, "encoding": {"y": {"field": "lo", "type": "quantitative"}, "color": {"field": "s", "type": "nominal", "legend": null}}},
    {"mark": {"type": "tick", "orient": "horizontal", "size": 6, "thickness": 1, "opacity": 0.6}, "encoding": {"y": {"field": "hi", "type": "quantitative"}, "color": {"field": "s", "type": "nominal", "legend": null}}},
    {"data": {"name": "Df"}, "mark": {"type": "line", "strokeDash": [0.1, 4], "strokeWidth": 2.3, "strokeCap": "round"}, "encoding": {"y": {"field": "y", "type": "quantitative"}, "color": {"field": "s", "type": "nominal", "legend": null}}},
    {"mark": {"type": "circle", "size": 30, "opacity": 1}, "encoding": {"y": {"field": "y", "type": "quantitative"}, "color": {"field": "s", "type": "nominal", "legend": null}}},
    {"transform": [{"filter": "datum.s == 'd' && datum.x == 0.011"}], "mark": {"type": "text", "align": "left", "baseline": "middle", "fontSize": 13, "fontWeight": "bold", "color": "#000"}, "encoding": {"x": {"datum": 0.000422}, "y": {"datum": 0.782}, "text": {"value": "D"}}},
    {"transform": [{"filter": "datum.s == 'd' && datum.x == 0.011"}], "mark": {"type": "text", "align": "left", "baseline": "middle", "fontSize": 10, "fontWeight": "bold", "color": "#4e8f31"}, "encoding": {"x": {"datum": 0.012}, "y": {"datum": 0.634}, "text": {"value": "control"}}},
    {"transform": [{"filter": "datum.s == 'd' && datum.x == 0.011"}], "mark": {"type": "text", "align": "left", "baseline": "middle", "fontSize": 10, "fontWeight": "bold", "color": "#7fe24f"}, "encoding": {"x": {"datum": 0.012}, "y": {"datum": 0.568}, "text": {"value": "sch 23390"}}}
   ]}
 ], "spacing": 17}
], "spacing": 3},
{"vconcat": [
 {"hconcat": [
  {"vconcat": [
   {"width": 324, "height": 116,
    "layer": [
     {"data": {"name": "Ek"}, "mark": {"type": "line", "color": "#c6c6c6", "strokeWidth": 4.5}, "encoding": {"x": {"field": "x", "type": "quantitative", "scale": {"domain": [0, 9], "nice": false}, "axis": null}, "y": {"field": "v", "type": "quantitative", "scale": {"domain": [-0.452, 0.1], "nice": false, "zero": false}, "axis": {"values": [-0.4, -0.3, -0.2, -0.1, 0], "tickCount": 5, "format": ".1f", "offset": 7, "tickSize": 3, "labelPadding": 1, "labelOverlap": false, "title": "Amplitude (ΔF/F₀)", "titlePadding": 3}}, "detail": {"field": "g"}}},
     {"data": {"name": "Er"}, "mark": {"type": "line", "color": "#c6c6c6", "strokeWidth": 4.5}, "encoding": {"x": {"field": "x", "type": "quantitative"}, "y": {"field": "v", "type": "quantitative"}, "detail": {"field": "g"}}},
     {"data": {"name": "Eo"}, "mark": {"type": "line", "color": "#c6c6c6", "strokeWidth": 4.5}, "encoding": {"x": {"field": "x", "type": "quantitative"}, "y": {"field": "v", "type": "quantitative"}, "detail": {"field": "g"}}},
     {"data": {"name": "Ek"}, "mark": {"type": "line", "color": "#5e181d", "strokeWidth": 1.6}, "encoding": {"x": {"field": "x", "type": "quantitative"}, "y": {"field": "v", "type": "quantitative"}, "detail": {"field": "g"}}},
     {"data": {"name": "Er"}, "mark": {"type": "line", "color": "#d9262e", "strokeWidth": 1.6}, "encoding": {"x": {"field": "x", "type": "quantitative"}, "y": {"field": "v", "type": "quantitative"}, "detail": {"field": "g"}}},
     {"data": {"name": "Eo"}, "mark": {"type": "line", "color": "#eba43a", "strokeWidth": 1.6}, "encoding": {"x": {"field": "x", "type": "quantitative"}, "y": {"field": "v", "type": "quantitative"}, "detail": {"field": "g"}}},
     {"data": {"name": "one"}, "mark": {"type": "text", "align": "left", "baseline": "middle", "fontSize": 13, "fontWeight": "bold", "color": "#000"}, "encoding": {"x": {"datum": -1.139}, "y": {"datum": 0.148}, "text": {"value": "E"}}},
     {"data": {"name": "one"}, "mark": {"type": "text", "align": "left", "baseline": "middle", "fontSize": 10.5, "fontWeight": "bold", "color": "#8a1d2b"}, "encoding": {"x": {"datum": 0.08}, "y": {"datum": -0.274}, "text": {"value": "control"}}},
     {"data": {"name": "one"}, "mark": {"type": "text", "align": "left", "baseline": "middle", "fontSize": 10.5, "fontWeight": "bold", "color": "#d9262e"}, "encoding": {"x": {"datum": 0.08}, "y": {"datum": -0.327}, "text": {"value": "sulpiride"}}},
     {"data": {"name": "one"}, "mark": {"type": "text", "align": "left", "baseline": "middle", "fontSize": 10.5, "fontWeight": "bold", "color": "#eba43a"}, "encoding": {"x": {"datum": 0.08}, "y": {"datum": -0.38}, "text": {"value": "sulpiride + meth"}}}
    ]},
   {"width": 324, "height": 10, "data": {"name": "stim"}, "mark": {"type": "line", "color": "#333", "strokeWidth": 1},
    "encoding": {"x": {"field": "x", "type": "quantitative", "scale": {"domain": [0, 9], "nice": false}, "axis": {"values": [0.5, 1.5, 2.5, 3.5, 4.5, 5.5, 6.5, 7.5, 8.5], "labelExpr": "['0.011','0.033','0.11','0.33','1.1','3.3','11','33','110'][floor(datum.value)]", "domain": false, "ticks": false, "labelFontSize": 8, "labelPadding": 5, "title": "Irradiance (nW/mm²)", "titlePadding": 6}},
                 "y": {"field": "y", "type": "quantitative", "scale": {"domain": [0, 1], "nice": false}, "axis": null},
                 "detail": {"field": "g"}, "order": {"field": "o"}}}
  ], "spacing": 4, "bounds": "flush"},
  {"hconcat": [
   {"width": 144, "height": 121, "data": {"name": "F"},
    "encoding": {"x": {"field": "x", "type": "quantitative", "scale": {"type": "log", "domain": [0.009, 120], "nice": false}, "axis": {"values": [0.01, 0.1, 1, 10, 100], "format": "~g", "offset": 4, "labelPadding": 3, "title": "Irradiance (nW/mm²)", "titlePadding": 6}}},
    "layer": [
     {"mark": {"type": "rule", "opacity": 0.6}, "encoding": {"y": {"field": "lo", "type": "quantitative", "scale": {"domain": [0, 0.5], "nice": false}, "axis": {"values": [0, 0.1, 0.2, 0.3, 0.4, 0.5], "tickCount": 5, "format": ".1f", "offset": 1, "labelPadding": 1, "labelOverlap": false, "title": "Amplitude (ΔF/F₀)", "titlePadding": 3}}, "y2": {"field": "hi"}, "color": {"field": "s", "type": "nominal", "legend": null}}},
     {"mark": {"type": "tick", "orient": "horizontal", "size": 6, "thickness": 1, "opacity": 0.6}, "encoding": {"y": {"field": "lo", "type": "quantitative"}, "color": {"field": "s", "type": "nominal", "legend": null}}},
     {"mark": {"type": "tick", "orient": "horizontal", "size": 6, "thickness": 1, "opacity": 0.6}, "encoding": {"y": {"field": "hi", "type": "quantitative"}, "color": {"field": "s", "type": "nominal", "legend": null}}},
     {"data": {"name": "Bf"}, "mark": {"type": "line", "strokeDash": [0.1, 4], "strokeWidth": 2.3, "strokeCap": "round"}, "encoding": {"y": {"field": "y", "type": "quantitative"}, "color": {"field": "s", "type": "nominal", "legend": null}}},
     {"transform": [{"filter": "datum.s == 'r'"}], "mark": {"type": "line", "strokeDash": [0.1, 4], "strokeWidth": 2.3, "strokeCap": "round"}, "encoding": {"y": {"field": "y", "type": "quantitative"}, "color": {"field": "s", "type": "nominal", "legend": null}}},
     {"mark": {"type": "circle", "size": 30, "opacity": 1}, "encoding": {"y": {"field": "y", "type": "quantitative"}, "color": {"field": "s", "type": "nominal", "legend": null}}},
     {"transform": [{"filter": "datum.s == 'k' && datum.x == 0.011"}], "mark": {"type": "text", "align": "left", "baseline": "middle", "fontSize": 13, "fontWeight": "bold", "color": "#000"}, "encoding": {"x": {"datum": 0.001133}, "y": {"datum": 0.541}, "text": {"value": "F"}}},
     {"transform": [{"filter": "datum.s == 'k' && datum.x == 0.011"}], "mark": {"type": "text", "align": "left", "baseline": "middle", "fontSize": 10, "fontWeight": "bold", "color": "#7a1d2b"}, "encoding": {"x": {"datum": 0.022}, "y": {"datum": 0.444}, "text": {"value": "control"}}},
     {"transform": [{"filter": "datum.s == 'k' && datum.x == 0.011"}], "mark": {"type": "text", "align": "left", "baseline": "middle", "fontSize": 10, "fontWeight": "bold", "color": "#d9262e"}, "encoding": {"x": {"datum": 0.022}, "y": {"datum": 0.399}, "text": {"value": "sulpiride"}}}
    ]},
   {"width": 136, "height": 121, "data": {"name": "G"},
    "encoding": {"x": {"field": "x", "type": "quantitative", "scale": {"type": "log", "domain": [0.009, 120], "nice": false}, "axis": {"values": [0.01, 0.1, 1, 10, 100], "format": "~g", "offset": 4, "labelPadding": 3, "title": "Irradiance (nW/mm²)", "titlePadding": 6}}},
    "layer": [
     {"mark": {"type": "rule", "opacity": 0.6}, "encoding": {"y": {"field": "lo", "type": "quantitative", "scale": {"domain": [0, 0.3], "nice": false}, "axis": {"values": [0, 0.1, 0.2, 0.3], "tickCount": 3, "format": ".1f", "offset": 1, "labelPadding": 1, "labelOverlap": false, "title": "Amplitude (ΔF/F₀)", "titlePadding": 5}}, "y2": {"field": "hi"}, "color": {"field": "s", "type": "nominal", "legend": null}}},
     {"mark": {"type": "tick", "orient": "horizontal", "size": 6, "thickness": 1, "opacity": 0.6}, "encoding": {"y": {"field": "lo", "type": "quantitative"}, "color": {"field": "s", "type": "nominal", "legend": null}}},
     {"mark": {"type": "tick", "orient": "horizontal", "size": 6, "thickness": 1, "opacity": 0.6}, "encoding": {"y": {"field": "hi", "type": "quantitative"}, "color": {"field": "s", "type": "nominal", "legend": null}}},
     {"mark": {"type": "line", "strokeDash": [0.1, 4], "strokeWidth": 2.3, "strokeCap": "round"}, "encoding": {"y": {"field": "y", "type": "quantitative"}, "color": {"field": "s", "type": "nominal", "legend": null}}},
     {"mark": {"type": "circle", "size": 30, "opacity": 1}, "encoding": {"y": {"field": "y", "type": "quantitative"}, "color": {"field": "s", "type": "nominal", "legend": null}}},
     {"transform": [{"filter": "datum.s == 'r' && datum.x == 0.011"}], "mark": {"type": "text", "align": "left", "baseline": "middle", "fontSize": 13, "fontWeight": "bold", "color": "#000"}, "encoding": {"x": {"datum": 0.000611}, "y": {"datum": 0.325}, "text": {"value": "G"}}},
     {"transform": [{"filter": "datum.s == 'r' && datum.x == 0.011"}], "mark": {"type": "text", "align": "left", "baseline": "middle", "fontSize": 9.5, "fontWeight": "bold", "color": "#d9262e"}, "encoding": {"x": {"datum": 0.0657}, "y": {"datum": 0.044}, "text": {"value": "sulpiride"}}},
     {"transform": [{"filter": "datum.s == 'r' && datum.x == 0.011"}], "mark": {"type": "text", "align": "left", "baseline": "middle", "fontSize": 9.5, "fontWeight": "bold", "color": "#eba43a"}, "encoding": {"x": {"datum": 0.0657}, "y": {"datum": 0.017}, "text": {"value": "sulpiride + meth"}}}
    ]}
  ], "spacing": 15}
 ], "spacing": 11},
 {"hconcat": [
  {"vconcat": [
   {"width": 324, "height": 113,
    "layer": [
     {"data": {"name": "Hd"}, "mark": {"type": "line", "color": "#c6c6c6", "strokeWidth": 4.5}, "encoding": {"x": {"field": "x", "type": "quantitative", "scale": {"domain": [0, 9], "nice": false}, "axis": null}, "y": {"field": "v", "type": "quantitative", "scale": {"domain": [-0.0935, 0.719], "nice": false, "zero": false}, "axis": {"values": [0, 0.2, 0.4, 0.6], "tickCount": 4, "format": ".1f", "offset": 7, "tickSize": 3, "labelPadding": 1, "labelOverlap": false, "title": "Amplitude (ΔF/F₀)", "titlePadding": 8}}, "detail": {"field": "g"}}},
     {"data": {"name": "Hl"}, "mark": {"type": "line", "color": "#c6c6c6", "strokeWidth": 4.5}, "encoding": {"x": {"field": "x", "type": "quantitative"}, "y": {"field": "v", "type": "quantitative"}, "detail": {"field": "g"}}},
     {"data": {"name": "Hb"}, "mark": {"type": "line", "color": "#c6c6c6", "strokeWidth": 4.5}, "encoding": {"x": {"field": "x", "type": "quantitative"}, "y": {"field": "v", "type": "quantitative"}, "detail": {"field": "g"}}},
     {"data": {"name": "Hd"}, "mark": {"type": "line", "color": "#3d6b2e", "strokeWidth": 1.6}, "encoding": {"x": {"field": "x", "type": "quantitative"}, "y": {"field": "v", "type": "quantitative"}, "detail": {"field": "g"}}},
     {"data": {"name": "Hl"}, "mark": {"type": "line", "color": "#7fe24f", "strokeWidth": 1.6}, "encoding": {"x": {"field": "x", "type": "quantitative"}, "y": {"field": "v", "type": "quantitative"}, "detail": {"field": "g"}}},
     {"data": {"name": "Hb"}, "mark": {"type": "line", "color": "#4d8bef", "strokeWidth": 1.6}, "encoding": {"x": {"field": "x", "type": "quantitative"}, "y": {"field": "v", "type": "quantitative"}, "detail": {"field": "g"}}},
     {"data": {"name": "one"}, "mark": {"type": "text", "align": "left", "baseline": "middle", "fontSize": 13, "fontWeight": "bold", "color": "#000"}, "encoding": {"x": {"datum": -1.139}, "y": {"datum": 0.762}, "text": {"value": "H"}}},
     {"data": {"name": "one"}, "mark": {"type": "text", "align": "left", "baseline": "middle", "fontSize": 10.5, "fontWeight": "bold", "color": "#4e8f31"}, "encoding": {"x": {"datum": 0.08}, "y": {"datum": 0.606}, "text": {"value": "control"}}},
     {"data": {"name": "one"}, "mark": {"type": "text", "align": "left", "baseline": "middle", "fontSize": 10.5, "fontWeight": "bold", "color": "#7fe24f"}, "encoding": {"x": {"datum": 0.08}, "y": {"datum": 0.528}, "text": {"value": "sulpiride"}}},
     {"data": {"name": "one"}, "mark": {"type": "text", "align": "left", "baseline": "middle", "fontSize": 10.5, "fontWeight": "bold", "color": "#4d8bef"}, "encoding": {"x": {"datum": 0.08}, "y": {"datum": 0.45}, "text": {"value": "sulpiride + meth"}}}
    ]},
   {"width": 324, "height": 10, "data": {"name": "stim"}, "mark": {"type": "line", "color": "#333", "strokeWidth": 1},
    "encoding": {"x": {"field": "x", "type": "quantitative", "scale": {"domain": [0, 9], "nice": false}, "axis": {"values": [0.5, 1.5, 2.5, 3.5, 4.5, 5.5, 6.5, 7.5, 8.5], "labelExpr": "['0.011','0.033','0.11','0.33','1.1','3.3','11','33','110'][floor(datum.value)]", "domain": false, "ticks": false, "labelFontSize": 8, "labelPadding": 5, "title": "Irradiance (nW/mm²)", "titlePadding": 6}},
                 "y": {"field": "y", "type": "quantitative", "scale": {"domain": [0, 1], "nice": false}, "axis": null},
                 "detail": {"field": "g"}, "order": {"field": "o"}}}
  ], "spacing": 4, "bounds": "flush"},
  {"hconcat": [
   {"width": 144, "height": 119, "data": {"name": "I"},
    "encoding": {"x": {"field": "x", "type": "quantitative", "scale": {"type": "log", "domain": [0.009, 120], "nice": false}, "axis": {"values": [0.01, 0.1, 1, 10, 100], "format": "~g", "offset": 4, "labelPadding": 3, "title": "Irradiance (nW/mm²)", "titlePadding": 6}}},
    "layer": [
     {"mark": {"type": "rule", "opacity": 0.6}, "encoding": {"y": {"field": "lo", "type": "quantitative", "scale": {"domain": [0, 0.73], "nice": false}, "axis": {"values": [0, 0.2, 0.4, 0.6], "tickCount": 4, "format": ".1f", "offset": 1, "labelPadding": 1, "labelOverlap": false, "title": "Amplitude (ΔF/F₀)", "titlePadding": 3}}, "y2": {"field": "hi"}, "color": {"field": "s", "type": "nominal", "legend": null}}},
     {"mark": {"type": "tick", "orient": "horizontal", "size": 6, "thickness": 1, "opacity": 0.6}, "encoding": {"y": {"field": "lo", "type": "quantitative"}, "color": {"field": "s", "type": "nominal", "legend": null}}},
     {"mark": {"type": "tick", "orient": "horizontal", "size": 6, "thickness": 1, "opacity": 0.6}, "encoding": {"y": {"field": "hi", "type": "quantitative"}, "color": {"field": "s", "type": "nominal", "legend": null}}},
     {"data": {"name": "If"}, "mark": {"type": "line", "strokeDash": [0.1, 4], "strokeWidth": 2.3, "strokeCap": "round"}, "encoding": {"y": {"field": "y", "type": "quantitative"}, "color": {"field": "s", "type": "nominal", "legend": null}}},
     {"mark": {"type": "circle", "size": 30, "opacity": 1}, "encoding": {"y": {"field": "y", "type": "quantitative"}, "color": {"field": "s", "type": "nominal", "legend": null}}},
     {"transform": [{"filter": "datum.s == 'd' && datum.x == 0.011"}], "mark": {"type": "text", "align": "left", "baseline": "middle", "fontSize": 13, "fontWeight": "bold", "color": "#000"}, "encoding": {"x": {"datum": 0.001294}, "y": {"datum": 0.767}, "text": {"value": "I"}}},
     {"transform": [{"filter": "datum.s == 'd' && datum.x == 0.011"}], "mark": {"type": "text", "align": "left", "baseline": "middle", "fontSize": 10, "fontWeight": "bold", "color": "#4e8f31"}, "encoding": {"x": {"datum": 0.022}, "y": {"datum": 0.636}, "text": {"value": "control"}}},
     {"transform": [{"filter": "datum.s == 'd' && datum.x == 0.011"}], "mark": {"type": "text", "align": "left", "baseline": "middle", "fontSize": 10, "fontWeight": "bold", "color": "#7fe24f"}, "encoding": {"x": {"datum": 0.022}, "y": {"datum": 0.57}, "text": {"value": "sulpiride"}}}
    ]},
   {"width": 136, "height": 119, "data": {"name": "J"},
    "encoding": {"x": {"field": "x", "type": "quantitative", "scale": {"type": "log", "domain": [0.009, 120], "nice": false}, "axis": {"values": [0.01, 0.1, 1, 10, 100], "format": "~g", "offset": 4, "labelPadding": 3, "title": "Irradiance (nW/mm²)", "titlePadding": 6}}},
    "layer": [
     {"mark": {"type": "rule", "opacity": 0.6}, "encoding": {"y": {"field": "lo", "type": "quantitative", "scale": {"domain": [0, 0.73], "nice": false}, "axis": {"values": [0, 0.2, 0.4, 0.6], "tickCount": 4, "format": ".1f", "offset": 4, "labelPadding": 1, "labelOverlap": false, "title": "Amplitude (ΔF/F₀)", "titlePadding": 3}}, "y2": {"field": "hi"}, "color": {"field": "s", "type": "nominal", "legend": null}}},
     {"mark": {"type": "tick", "orient": "horizontal", "size": 6, "thickness": 1, "opacity": 0.6}, "encoding": {"y": {"field": "lo", "type": "quantitative"}, "color": {"field": "s", "type": "nominal", "legend": null}}},
     {"mark": {"type": "tick", "orient": "horizontal", "size": 6, "thickness": 1, "opacity": 0.6}, "encoding": {"y": {"field": "hi", "type": "quantitative"}, "color": {"field": "s", "type": "nominal", "legend": null}}},
     {"data": {"name": "Jf"}, "mark": {"type": "line", "strokeDash": [0.1, 4], "strokeWidth": 2.3, "strokeCap": "round"}, "encoding": {"y": {"field": "y", "type": "quantitative"}, "color": {"field": "s", "type": "nominal", "legend": null}}},
     {"mark": {"type": "circle", "size": 30, "opacity": 1}, "encoding": {"y": {"field": "y", "type": "quantitative"}, "color": {"field": "s", "type": "nominal", "legend": null}}},
     {"transform": [{"filter": "datum.s == 'l' && datum.x == 0.011"}], "mark": {"type": "text", "align": "left", "baseline": "middle", "fontSize": 13, "fontWeight": "bold", "color": "#000"}, "encoding": {"x": {"datum": 0.000703}, "y": {"datum": 0.767}, "text": {"value": "J"}}},
     {"transform": [{"filter": "datum.s == 'l' && datum.x == 0.011"}], "mark": {"type": "text", "align": "right", "baseline": "middle", "fontSize": 10, "fontWeight": "bold", "color": "#7fe24f"}, "encoding": {"x": {"datum": 141}, "y": {"datum": 0.115}, "text": {"value": "sulpiride"}}},
     {"transform": [{"filter": "datum.s == 'l' && datum.x == 0.011"}], "mark": {"type": "text", "align": "right", "baseline": "middle", "fontSize": 10, "fontWeight": "bold", "color": "#4d8bef"}, "encoding": {"x": {"datum": 141}, "y": {"datum": 0.049}, "text": {"value": "sulpiride + meth"}}}
    ]}
  ], "spacing": 17}
 ], "spacing": 11}
], "spacing": 6}
],
"spacing": 14, "center": true
}
